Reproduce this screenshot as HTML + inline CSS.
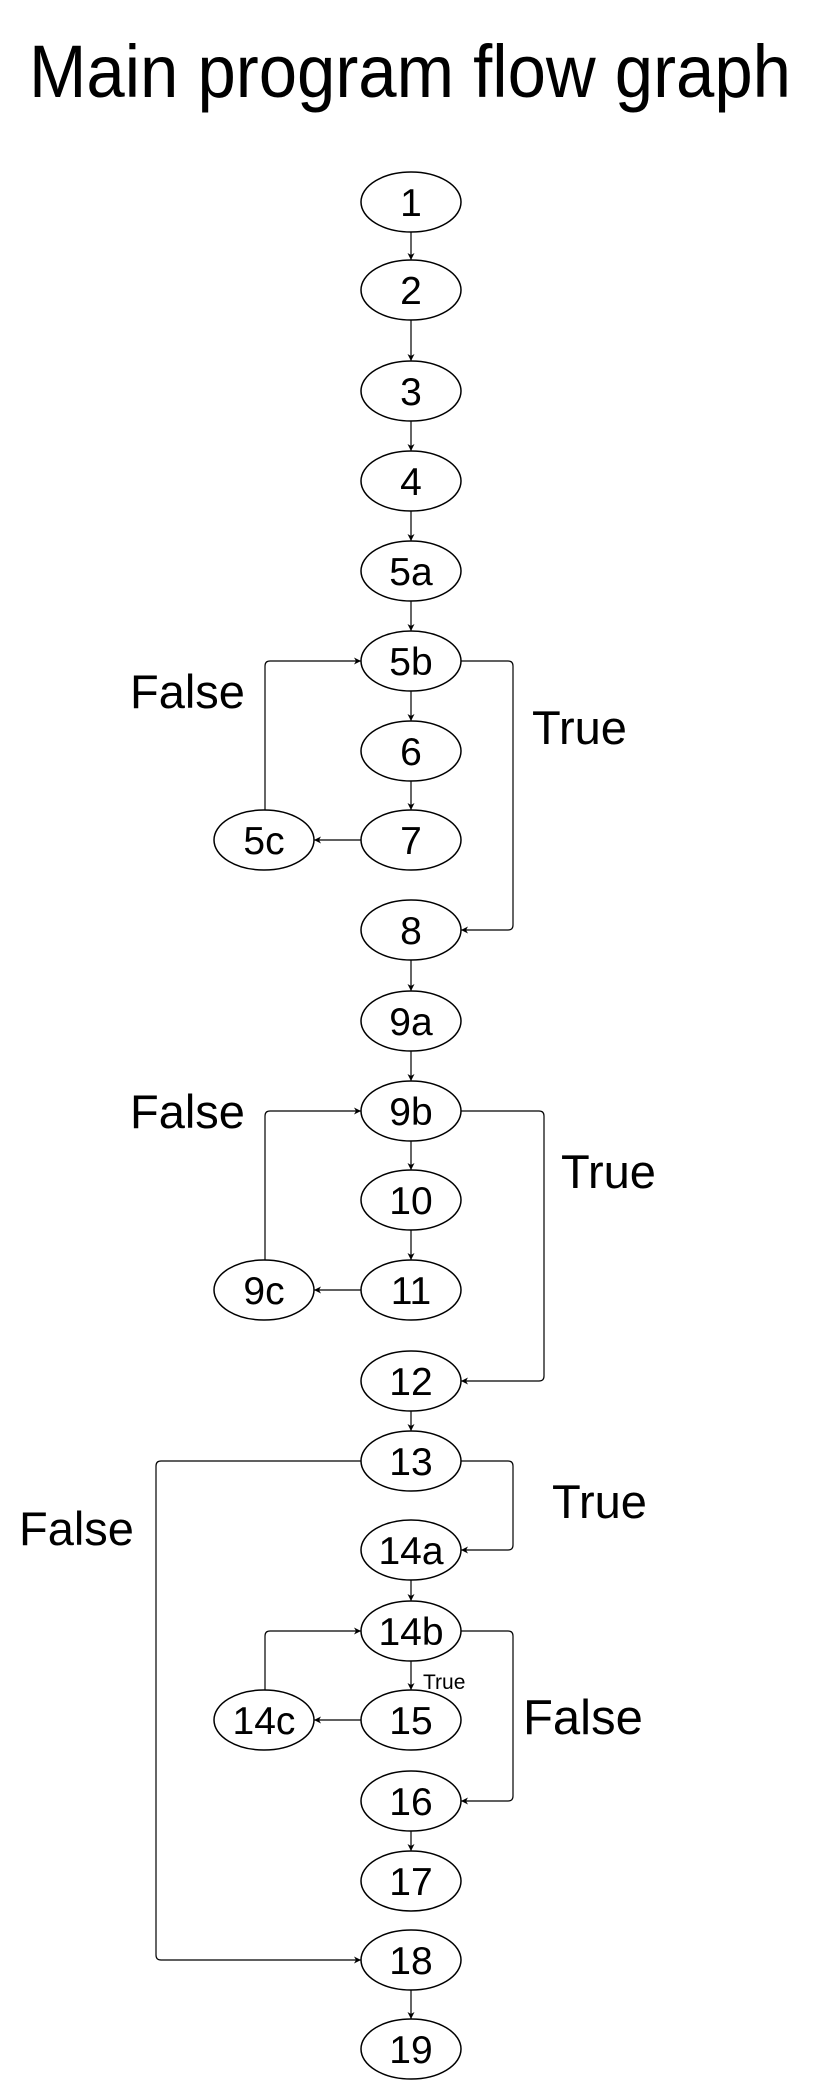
<!DOCTYPE html>
<html><head><meta charset="utf-8"><style>
html,body{margin:0;padding:0;background:#fff;}
svg{display:block;}
text{font-family:"Liberation Sans",Arial,sans-serif;fill:#000;}
</style></head><body>
<svg id="g" width="823" height="2084" viewBox="0 0 823 2084" xmlns="http://www.w3.org/2000/svg">
<defs><marker id="ah" markerWidth="8" markerHeight="8" refX="7" refY="4" orient="auto" markerUnits="userSpaceOnUse"><path d="M0,0.5 L7,4 L0,7.5 L2,4 z" fill="#000"/></marker></defs>
<text x="29" y="97" font-size="74" textLength="762" lengthAdjust="spacingAndGlyphs">Main program flow graph</text>
</svg>
<script>
var nodeLabels=["1","2","3","4","5a","5b","6","7","8","9a","9b","10","11","12","13","14a","14b","15","16","17","18","19","5c","9c","14c"];
var nodeCx=[411,411,411,411,411,411,411,411,411,411,411,411,411,411,411,411,411,411,411,411,411,411,264,264,264];
var nodeCy=[202,290,391,481,571,661,751,840,930,1021,1111,1200,1290,1381,1461,1550,1631,1720,1801,1881,1960,2049,840,1290,1720];
var chainEdges=[["1","2"],["2","3"],["3","4"],["4","5a"],["5a","5b"],["5b","6"],["6","7"],["8","9a"],["9a","9b"],["9b","10"],["10","11"],["12","13"],["14a","14b"],["14b","15"],["16","17"],["18","19"]];
var sideEdges=[["7","5c"],["11","9c"],["15","14c"]];
var loopEdges=[["5c","5b"],["9c","9b"],["14c","14b"]];
var rightEdges=[["5b","8",513],["9b","12",544],["13","14a",513],["14b","16",513]];
var leftEdges=[["13","18",156]];
var labelTexts=["False","True","False","True","False","True","False","True"];
var labelX=[130,532,130,561,19,552,523,423];
var labelY=[708,744,1128,1188,1545,1518,1734,1689];
var labelSize=[47,47,47,47,47,47,49,21];
var RX=50,RY=30,NS="http://www.w3.org/2000/svg";
var svg=document.getElementById('g');
function idx(l){return nodeLabels.indexOf(l);}
function mk(t,a){var e=document.createElementNS(NS,t);for(var k in a)e.setAttribute(k,a[k]);svg.appendChild(e);return e;}
function path(d,name,arrow){var p=mk('path',{d:d,fill:'none',stroke:'#000','stroke-width':1.2});if(arrow)p.setAttribute('marker-end','url(#ah)');

return p;}
chainEdges.forEach(function(e){var a=idx(e[0]),b=idx(e[1]);
path('M'+nodeCx[a]+','+(nodeCy[a]+RY)+' L'+nodeCx[b]+','+(nodeCy[b]-RY),'edge-'+e[0]+'-'+e[1],true);});
sideEdges.forEach(function(e){var a=idx(e[0]),b=idx(e[1]);
path('M'+(nodeCx[a]-RX)+','+nodeCy[a]+' L'+(nodeCx[b]+RX)+','+nodeCy[b],'edge-'+e[0]+'-'+e[1],true);});
loopEdges.forEach(function(e){var a=idx(e[0]),b=idx(e[1]);var x=nodeCx[a]+1,y=nodeCy[b];
path('M'+x+','+(nodeCy[a]-RY)+' L'+x+','+(y+5)+' Q'+x+','+y+' '+(x+5)+','+y+' L'+(nodeCx[b]-RX)+','+y,'edge-'+e[0]+'-'+e[1],true);});
rightEdges.forEach(function(e){var a=idx(e[0]),b=idx(e[1]),x=e[2];var y1=nodeCy[a],y2=nodeCy[b];
path('M'+(nodeCx[a]+RX)+','+y1+' L'+(x-5)+','+y1+' Q'+x+','+y1+' '+x+','+(y1+5)+' L'+x+','+(y2-5)+' Q'+x+','+y2+' '+(x-5)+','+y2+' L'+(nodeCx[b]+RX)+','+y2,'edge-'+e[0]+'-'+e[1],true);});
leftEdges.forEach(function(e){var a=idx(e[0]),b=idx(e[1]),x=e[2];var y1=nodeCy[a],y2=nodeCy[b];
path('M'+(nodeCx[a]-RX)+','+y1+' L'+(x+5)+','+y1+' Q'+x+','+y1+' '+x+','+(y1+5)+' L'+x+','+(y2-5)+' Q'+x+','+y2+' '+(x+5)+','+y2+' L'+(nodeCx[b]-RX)+','+y2,'edge-'+e[0]+'-'+e[1],true);});
nodeLabels.forEach(function(l,i){
var el=mk('ellipse',{cx:nodeCx[i],cy:nodeCy[i],rx:RX,ry:RY,fill:'#fff',stroke:'#000','stroke-width':1.5});


var t=mk('text',{x:nodeCx[i],y:nodeCy[i]+14,'font-size':39,'text-anchor':'middle'});t.textContent=l;

});
labelTexts.forEach(function(s,i){var t=mk('text',{x:labelX[i],y:labelY[i],'font-size':labelSize[i]});t.textContent=s;

});
</script>
</body></html>
